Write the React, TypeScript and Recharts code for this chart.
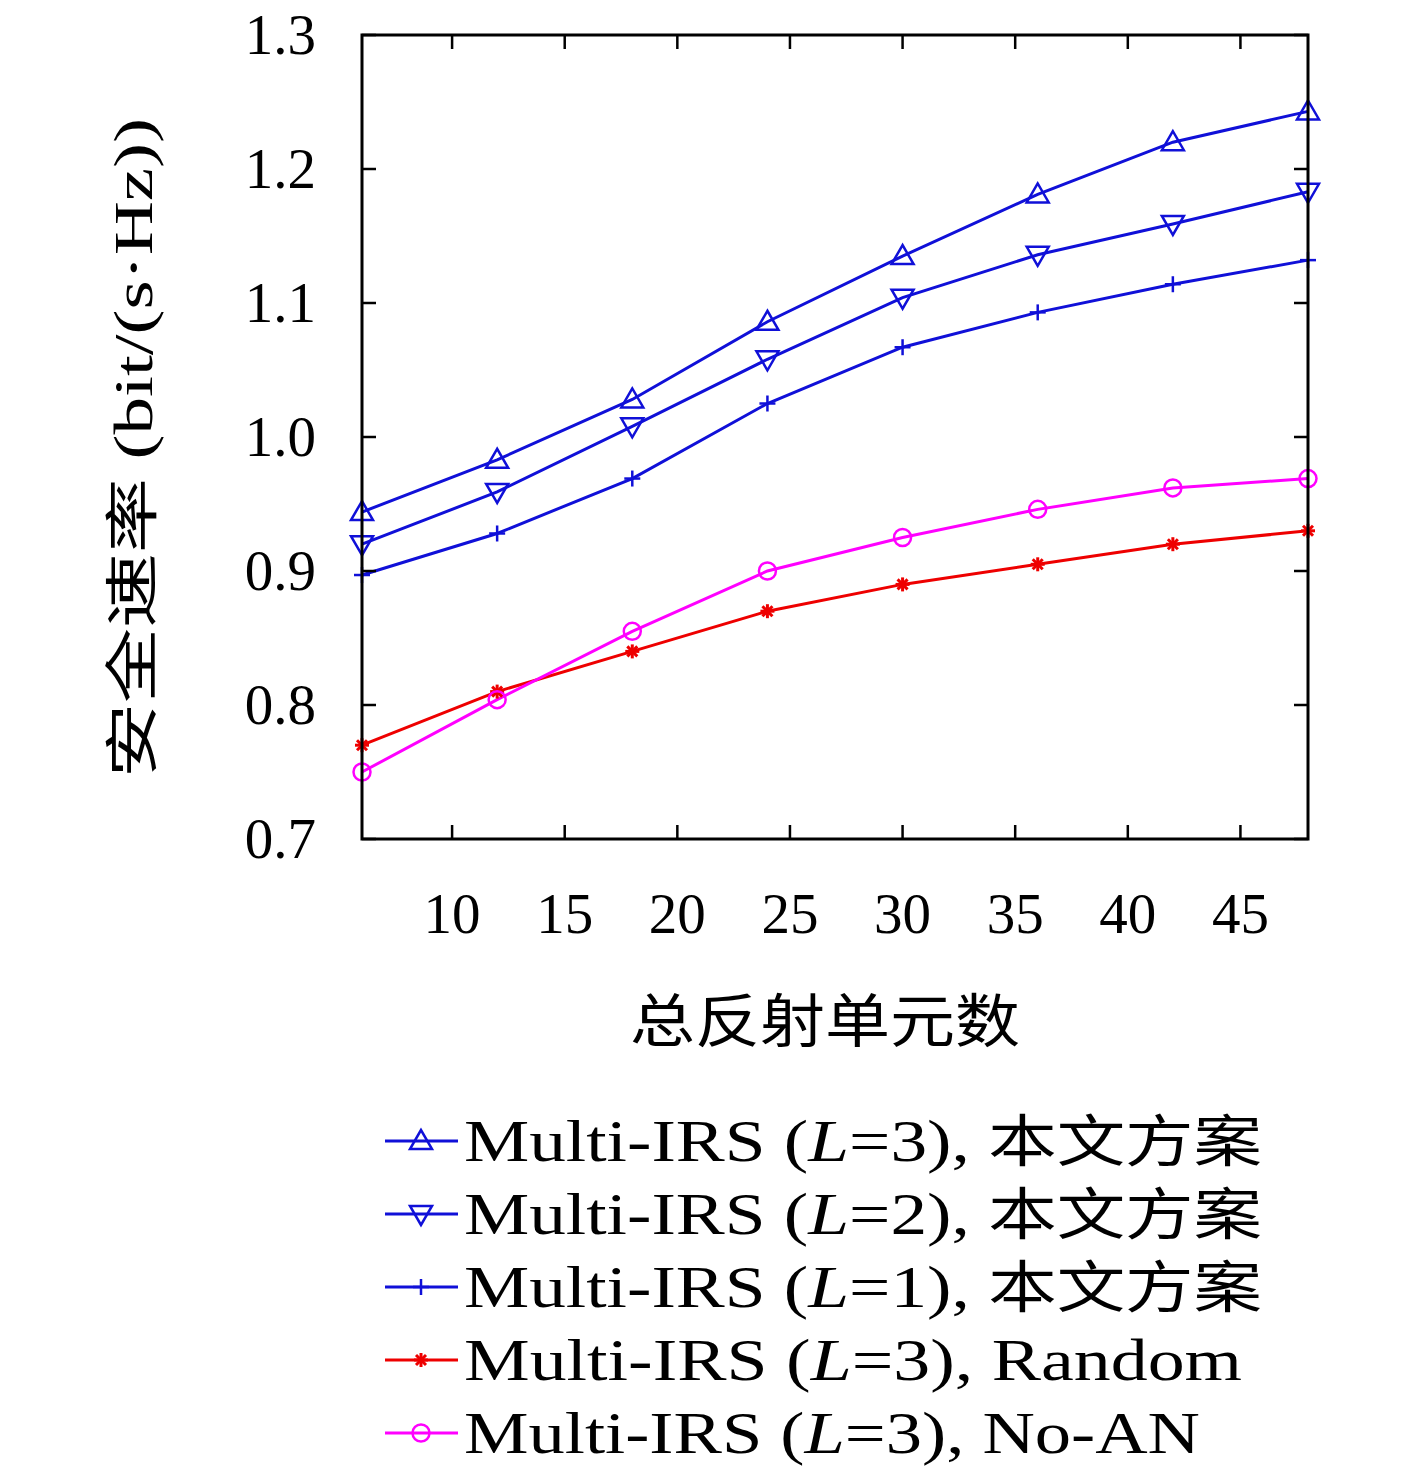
import {CartesianGrid, Line, LineChart, XAxis, YAxis} from "recharts";

const elements = [6, 12, 18, 24, 30, 36, 42, 48];
const multiL3 = [0.944, 0.983, 1.028, 1.086, 1.135, 1.181, 1.220, 1.243];
const multiL2 = [0.920, 0.959, 1.008, 1.058, 1.104, 1.136, 1.159, 1.183];
const multiL1 = [0.897, 0.928, 0.969, 1.025, 1.067, 1.093, 1.114, 1.132];
const randomL3 = [0.770, 0.810, 0.840, 0.870, 0.890, 0.905, 0.920, 0.930];
const noAnL3 = [0.750, 0.804, 0.855, 0.900, 0.925, 0.946, 0.962, 0.969];
const xTicks = [10, 15, 20, 25, 30, 35, 40, 45];
const yTicks = [0.7, 0.8, 0.9, 1.0, 1.1, 1.2, 1.3];

const data = elements.map((n, i) => ({n, l3: multiL3[i], l2: multiL2[i], l1: multiL1[i], rnd: randomL3[i], noan: noAnL3[i]}));

const BLUE = "#1010d8";
const RED = "#ee0000";
const MAG = "#ff00ff";
const FONT = "'Liberation Serif', 'DejaVu Serif', serif";
const TOP = 35, BOTTOM = 839, LEFT = 362, RIGHT = 1308;
const YW = 60, XH = 30;

const Marker = ({kind, cx, cy, color}: any) => {
    const s = 11;
    if (kind === "up") return <polygon points={`${cx},${cy - s} ${cx - s},${cy + 8} ${cx + s},${cy + 8}`} fill="none" stroke={color} strokeWidth={2.5} />;
    if (kind === "down") return <polygon points={`${cx},${cy + s} ${cx - s},${cy - 8} ${cx + s},${cy - 8}`} fill="none" stroke={color} strokeWidth={2.5} />;
    if (kind === "plus") return <g stroke={color} strokeWidth={2.5}><line x1={cx - 8} y1={cy} x2={cx + 8} y2={cy} /><line x1={cx} y1={cy - 8} x2={cx} y2={cy + 8} /></g>;
    if (kind === "star") return <g stroke={color} strokeWidth={3}><line x1={cx - 7} y1={cy} x2={cx + 7} y2={cy} /><line x1={cx} y1={cy - 7} x2={cx} y2={cy + 7} /><line x1={cx - 5} y1={cy - 5} x2={cx + 5} y2={cy + 5} /><line x1={cx - 5} y1={cy + 5} x2={cx + 5} y2={cy - 5} /></g>;
    return <circle cx={cx} cy={cy} r={8.5} fill="none" stroke={color} strokeWidth={2.5} />;
};

const mk = (kind: string, color: string) => (p: any) => <Marker key={`${kind}-${p.index}`} kind={kind} cx={p.cx} cy={p.cy} color={color} />;

const XTick = ({x, payload}: any) => (
    <g>
        <line x1={x} y1={BOTTOM} x2={x} y2={BOTTOM - 14} stroke="#000" strokeWidth={2.5} />
        <line x1={x} y1={TOP} x2={x} y2={TOP + 14} stroke="#000" strokeWidth={2.5} />
        <text x={x} y={933} textAnchor="middle" fontSize={57} fontFamily={FONT}>{payload.value}</text>
    </g>
);

const YTick = ({y, payload}: any) => (
    <g>
        <line x1={LEFT} y1={y} x2={LEFT + 14} y2={y} stroke="#000" strokeWidth={2.5} />
        <line x1={RIGHT} y1={y} x2={RIGHT - 14} y2={y} stroke="#000" strokeWidth={2.5} />
        <text x={316} y={y + 19} textAnchor="end" fontSize={57} fontFamily={FONT}>{payload.value.toFixed(1)}</text>
    </g>
);

const legend = [
    {kind: "up", color: BLUE, v: "3", tail: "本文方案", end: 1262},
    {kind: "down", color: BLUE, v: "2", tail: "本文方案", end: 1262},
    {kind: "plus", color: BLUE, v: "1", tail: "本文方案", end: 1262},
    {kind: "star", color: RED, v: "3", tail: "Random", end: 1242},
    {kind: "circle", color: MAG, v: "3", tail: "No-AN", end: 1200},
];

export default function App() {
    return (
        <div style={{position: "absolute", left: 0, top: 0, width: 1417, height: 1475, background: "#fff"}}>
            <LineChart width={1417} height={1100} data={data} margin={{top: TOP, left: LEFT - YW, right: 1417 - RIGHT, bottom: 1100 - BOTTOM - XH}}>
                <CartesianGrid fill="none" stroke="none" />
                <XAxis dataKey="n" type="number" domain={[6, 48]} ticks={xTicks} tick={<XTick />} tickLine={false} axisLine={false} height={XH} />
                <YAxis type="number" domain={[0.7, 1.3]} ticks={yTicks} tick={<YTick />} tickLine={false} axisLine={false} width={YW} />
                <Line dataKey="l3" stroke={BLUE} strokeWidth={3} dot={mk("up", BLUE)} isAnimationActive={false} />
                <Line dataKey="l2" stroke={BLUE} strokeWidth={3} dot={mk("down", BLUE)} isAnimationActive={false} />
                <Line dataKey="l1" stroke={BLUE} strokeWidth={3} dot={mk("plus", BLUE)} isAnimationActive={false} />
                <Line dataKey="rnd" stroke={RED} strokeWidth={3} dot={mk("star", RED)} isAnimationActive={false} />
                <Line dataKey="noan" stroke={MAG} strokeWidth={3} dot={mk("circle", MAG)} isAnimationActive={false} />
            </LineChart>
            <svg width={1417} height={1475} style={{position: "absolute", left: 0, top: 0, pointerEvents: "none"}}>
                <rect x={LEFT} y={TOP} width={RIGHT - LEFT} height={BOTTOM - TOP} fill="none" stroke="#000" strokeWidth={3} />
                <text transform="translate(152,448) rotate(-90)" textAnchor="middle" fontSize={54} fontFamily={FONT} textLength={660} lengthAdjust="spacingAndGlyphs">
                    <tspan fontFamily="'Noto Sans CJK SC'">安全速率</tspan> (bit/(s·Hz))
                </text>
                <text x={825} y={1042} textAnchor="middle" fontSize={58} fontFamily="'Noto Sans CJK SC'" textLength={390} lengthAdjust="spacingAndGlyphs">总反射单元数</text>
                {legend.map((e, i) => {
                    const y = 1141 + i * 73;
                    return (
                        <g key={i}>
                            <line x1={385} y1={y} x2={458} y2={y} stroke={e.color} strokeWidth={3} />
                            <Marker kind={e.kind} cx={421} cy={y} color={e.color} />
                            <text x={464} y={y + 20} fontSize={60} fontFamily={FONT} textLength={e.end - 464} lengthAdjust="spacingAndGlyphs">
                                Multi-IRS (<tspan fontStyle="italic">L</tspan>={e.v}),{" "}
                                <tspan fontFamily={e.tail === "本文方案" ? "'Noto Sans CJK SC'" : FONT} fontSize={e.tail === "本文方案" ? 56 : 60}>{e.tail}</tspan>
                            </text>
                        </g>
                    );
                })}
            </svg>
        </div>
    );
}
